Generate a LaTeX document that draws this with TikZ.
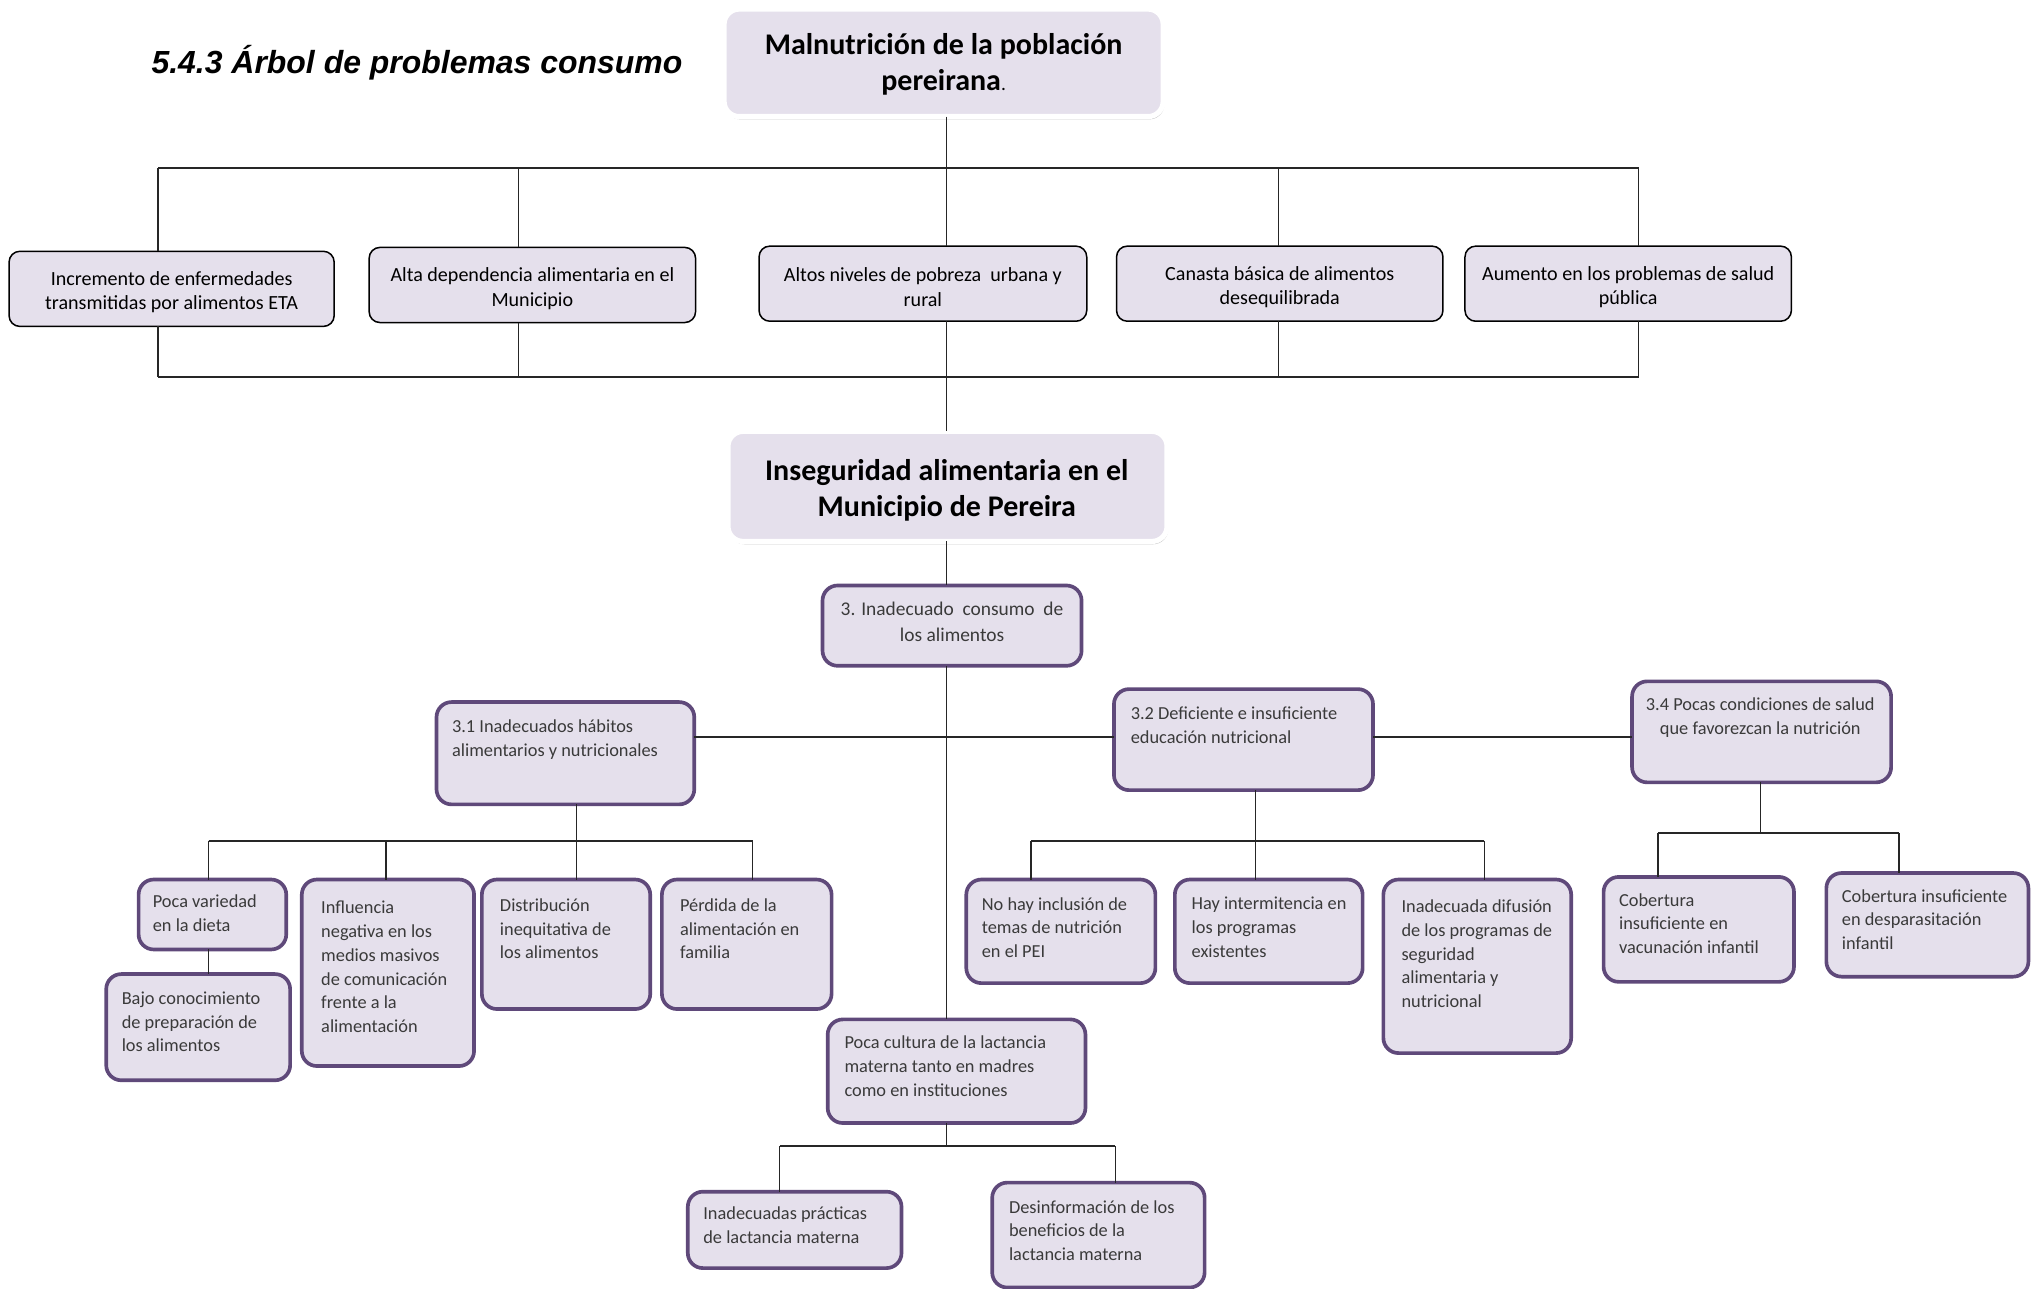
\documentclass[tikz,border=0pt]{standalone}
\usepackage{fontspec}
\setmainfont{Carlito}
\newfontfamily\headfont{Liberation Sans}
\usetikzlibrary{fit,shadows}
\definecolor{lav}{HTML}{E5E0EC}
\definecolor{plum}{HTML}{5F497A}
\definecolor{ink}{HTML}{3A3A3A}

\begin{document}
\begin{tikzpicture}[x=0.6pt,y=-0.6pt,
  every node/.style={inner sep=0pt,outer sep=0pt},
  effectbox/.style={rounded corners=5pt, fill=lav, draw=black, line width=0.7pt},
  purplebox/.style={rounded corners=7pt, fill=lav, draw=plum, line width=1.7pt},
  headbox/.style={rounded corners=7pt, fill=lav, draw=white, line width=2.4pt,
    drop shadow={shadow xshift=0.6pt,shadow yshift=-1.3pt,fill=black!50,opacity=0.45}},
  efftext/.style={font=\fontsize{9.3}{11.4}\selectfont, align=center, text=black, yshift=-1.6pt},
  smalltext/.style={font=\fontsize{8.5}{11}\selectfont, align=left, text=ink,
    anchor=north west, execute at begin node=\strut, yshift=-2.4pt},
  headtext/.style={font=\fontsize{13.9}{16.8}\selectfont\bfseries, align=center, yshift=-1.4pt},
  bus/.style={line width=0.9pt, draw=black!85},
  stem/.style={line width=0.55pt, draw=black!85},
]
\useasboundingbox (0,0) rectangle (1568,995);

% heading
\node[anchor=base west, font=\headfont\fontsize{14.8}{17}\selectfont\bfseries\itshape]
  (title) at (117,57) {5.4.3 Árbol de problemas consumo};

% ---------- main problem ----------
\node[headbox, fit={(559,7) (898,90)}] (top) {};
\node[headtext] (top-t) at (728.5,47.5)
  {Malnutrición de la población\\pereirana{\mdseries\fontsize{9}{10}\selectfont.}};

% ---------- effects ----------
\node[effectbox, fit={(7,194) (258,252)}] (e1) {};
\node[efftext] (e1-t) at (e1.center) {Incremento de enfermedades\\transmitidas por alimentos ETA};
\node[effectbox, fit={(285,191) (537,249)}] (e2) {};
\node[efftext] (e2-t) at (e2.center) {Alta dependencia alimentaria en el\\Municipio};
\node[effectbox, fit={(586,190) (839,248)}] (e3) {};
\node[efftext] (e3-t) at (e3.center) {Altos niveles de pobreza\ \ urbana y\\rural};
\node[effectbox, fit={(862,190) (1114,248)}] (e4) {};
\node[efftext] (e4-t) at (e4.center) {Canasta básica de alimentos\\desequilibrada};
\node[effectbox, fit={(1131,190) (1383,248)}] (e5) {};
\node[efftext] (e5-t) at (e5.center) {Aumento en los problemas de salud\\pública};

% upper bus
\coordinate (u1) at (122,130);
\coordinate (u2) at (400,130);
\coordinate (u3) at (731,130);
\coordinate (u4) at (987,130);
\coordinate (u5) at (1265,130);
\draw[bus] (u1) -- (u5);
\draw[stem] (u3 |- top.south) -- (u3);
\draw[stem] (u1) -- (u1 |- e1.north);
\draw[stem] (u2) -- (u2 |- e2.north);
\draw[stem] (u3) -- (u3 |- e3.north);
\draw[stem] (u4) -- (u4 |- e4.north);
\draw[stem] (u5) -- (u5 |- e5.north);

% lower bus
\coordinate (d1) at (122,291);
\coordinate (d2) at (400,291);
\coordinate (d3) at (731,291);
\coordinate (d4) at (987,291);
\coordinate (d5) at (1265,291);
\draw[bus] (d1) -- (d5);
\draw[stem] (d1 |- e1.south) -- (d1);
\draw[stem] (d2 |- e2.south) -- (d2);
\draw[stem] (d3 |- e3.south) -- (d3);
\draw[stem] (d4 |- e4.south) -- (d4);
\draw[stem] (d5 |- e5.south) -- (d5);

% ---------- central problem ----------
\node[headbox, fit={(562,333) (901,418)}] (core) {};
\node[headtext] (core-t) at (731,376) {Inseguridad alimentaria en el\\Municipio de Pereira};
\draw[stem] (d3) -- (d3 |- core.north);

% ---------- cause 3 ----------
\node[purplebox, fit={(635,452) (835,514)}] (c3) {};
\node[font=\fontsize{9}{12}\selectfont, align=center, text=ink, execute at begin node=\strut,
  yshift=-2.4pt] (c3-t) at (735,479) {3. Inadecuado\ \ consumo\ \ de\\los alimentos};

\coordinate (spine) at (731,569);
\draw[stem] (spine |- core.south) -- (spine |- c3.north);

\node[purplebox, fit={(337,542) (536,621)}] (c31) {};
\node[smalltext] (c31-t) at (349,551.7) {3.1 Inadecuados hábitos\\alimentarios y nutricionales};
\node[purplebox, fit={(860,532) (1060,610)}] (c32) {};
\node[smalltext] (c32-t) at (873,541.7) {3.2 Deficiente e insuficiente\\educación nutricional};
\node[purplebox, fit={(1260,526) (1460,604)}] (c34) {};
\node[smalltext, anchor=north, align=center] (c34-t) at (1359,534.7)
  {3.4 Pocas condiciones de salud\\que favorezcan la nutrición};

\node[purplebox, fit={(639,787) (838,867)}] (lact) {};
\node[smalltext] (lact-t) at (652,795.7)
  {Poca cultura de la lactancia\\materna tanto en madres\\como en instituciones};

\draw[stem] (spine |- c3.south) -- (spine |- lact.north);
\draw[bus] (c31.east |- spine) -- (c32.west |- spine);
\draw[bus] (c32.east |- spine) -- (c34.west |- spine);

% ---------- branch 3.1 ----------
\node[purplebox, fit={(107,679) (221,733)}] (pv) {};
\node[smalltext] (pv-t) at (118,686.7) {Poca variedad\\en la dieta};
\node[purplebox, fit={(82,752) (224,834)}] (bc) {};
\node[smalltext] (bc-t) at (94,761.7) {Bajo conocimiento\\de preparación de\\los alimentos};
\node[purplebox, fit={(233,679) (366,823)}] (inf) {};
\node[smalltext] (inf-t) at (248,691.7)
  {Influencia\\negativa en los\\medios masivos\\de comunicación\\frente a la\\alimentación};
\node[purplebox, fit={(372,679) (502,779)}] (dist) {};
\node[smalltext] (dist-t) at (386,689.7) {Distribución\\inequitativa de\\los alimentos};
\node[purplebox, fit={(511,679) (642,779)}] (perd) {};
\node[smalltext] (perd-t) at (525,689.7) {Pérdida de la\\alimentación en\\familia};

\coordinate (a1) at (161,649);
\coordinate (a2) at (298,649);
\coordinate (a3) at (445,649);
\coordinate (a4) at (581,649);
\draw[stem] (a3 |- c31.south) -- (a3);
\draw[bus] (a1) -- (a4);
\draw[stem] (a1) -- (a1 |- pv.north);
\draw[stem] (a2) -- (a2 |- inf.north);
\draw[stem] (a3) -- (a3 |- dist.north);
\draw[stem] (a4) -- (a4 |- perd.north);
\draw[stem] (a1 |- pv.south) -- (a1 |- bc.north);

% ---------- branch 3.2 ----------
\node[purplebox, fit={(746,679) (892,759)}] (nh) {};
\node[smalltext] (nh-t) at (758,688.7) {No hay inclusión de\\temas de nutrición\\en el PEI};
\node[purplebox, fit={(907,679) (1052,759)}] (hi) {};
\node[smalltext] (hi-t) at (920,688.7) {Hay intermitencia en\\los programas\\existentes};
\node[purplebox, fit={(1068,679) (1213,813)}] (idf) {};
\node[smalltext] (idf-t) at (1082,690.7)
  {Inadecuada difusión\\de los programas de\\seguridad\\alimentaria y\\nutricional};

\coordinate (b1) at (796,649);
\coordinate (b2) at (969,649);
\coordinate (b3) at (1146,649);
\draw[stem] (b2 |- c32.south) -- (b2);
\draw[bus] (b1) -- (b3);
\draw[stem] (b1) -- (b1 |- nh.north);
\draw[stem] (b2) -- (b2 |- hi.north);
\draw[stem] (b3) -- (b3 |- idf.north);

% ---------- branch 3.4 ----------
\node[purplebox, fit={(1238,677) (1385,758)}] (cv) {};
\node[smalltext] (cv-t) at (1250,685.7) {Cobertura\\insuficiente en\\vacunación infantil};
\node[purplebox, fit={(1410,674) (1566,754)}] (cd) {};
\node[smalltext] (cd-t) at (1422,682.7) {Cobertura insuficiente\\en desparasitación\\infantil};

\coordinate (k1) at (1280,643);
\coordinate (k2) at (1359,643);
\coordinate (k3) at (1466,643);
\draw[stem] (k2 |- c34.south) -- (k2);
\draw[bus] (k1) -- (k3);
\draw[stem] (k1) -- (k1 |- cv.north);
\draw[stem] (k3) -- (k3 |- cd.north);

% ---------- breastfeeding branch ----------
\node[purplebox, fit={(531,920) (696,979)}] (ip) {};
\node[smalltext] (ip-t) at (543,927.7) {Inadecuadas prácticas\\de lactancia materna};
\node[purplebox, fit={(766,913) (930,994)}] (des) {};
\node[smalltext] (des-t) at (779,922.7) {Desinformación de los\\beneficios de la\\lactancia materna};

\coordinate (m1) at (602,885);
\coordinate (m2) at (731,885);
\coordinate (m3) at (861,885);
\draw[stem] (m2 |- lact.south) -- (m2);
\draw[bus] (m1) -- (m3);
\draw[stem] (m1) -- (m1 |- ip.north);
\draw[stem] (m3) -- (m3 |- des.north);
\end{tikzpicture}
\end{document}
